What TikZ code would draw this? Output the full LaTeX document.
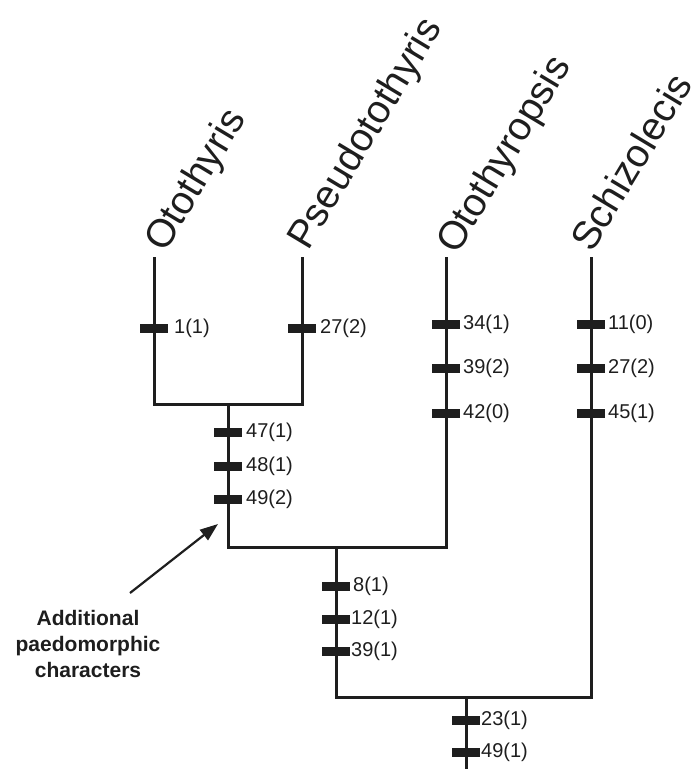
\documentclass[tikz,border=0pt]{standalone}
\usepackage{fontspec}
\setmainfont{Liberation Sans}
\usetikzlibrary{arrows.meta}
\definecolor{ink}{RGB}{30,30,30}
\begin{document}
\begin{tikzpicture}[x=1pt,y=-1pt,
  branch/.style={line width=3pt, draw=ink, line join=miter},
  tick/.style={rectangle, fill=ink, draw=none, minimum width=28pt, minimum height=9pt, inner sep=0pt},
  lab/.style={anchor=west, inner sep=0pt, text=ink, font=\fontsize{20}{24}\selectfont},
  taxon/.style={anchor=base west, rotate=59, inner sep=0pt, text=ink, font=\fontsize{39.5}{48}\selectfont},
  note/.style={align=center, inner sep=0pt, text=ink, font=\bfseries\fontsize{21}{26}\selectfont},
  pointer/.style={line width=2.2pt, draw=ink, -{Triangle[length=18pt,width=13pt]}}]
\useasboundingbox (0,0) rectangle (697,769);
% tips
\coordinate (tip1) at (154,257);
\coordinate (tip2) at (302,257);
\coordinate (tip3) at (446,257);
\coordinate (tip4) at (591,257);
% internal nodes
\coordinate (n1) at (228,404);
\coordinate (n2) at (336,547);
\coordinate (n3) at (466,697);
\coordinate (root) at (466,769);
% taxon names
\node[taxon] (nm1) at (165,254) {Otothyris};
\node[taxon] (nm2) at (308,252) {Pseudotothyris};
\node[taxon] (nm3) at (457,256) {Otothyropsis};
\node[taxon] (nm4) at (592,254) {Schizolecis};
% branches
\draw[branch] (tip1) |- (n1) -| (tip2);
\draw[branch] (n1) |- (n2) -| (tip3);
\draw[branch] (n2) |- (n3) -| (tip4);
\draw[branch] (n3) -- (root);
% character ticks
\node[tick] (a1) at (154,328) {}; \node[lab] (la1) at (174,328) {1(1)};
\node[tick] (b1) at (302,328) {}; \node[lab] (lb1) at (320,328) {27(2)};
\node[tick] (c1) at (446,324) {}; \node[lab] (lc1) at (463,324) {34(1)};
\node[tick] (c2) at (446,368) {}; \node[lab] (lc2) at (463,368) {39(2)};
\node[tick] (c3) at (446,413) {}; \node[lab] (lc3) at (463,413) {42(0)};
\node[tick] (d1) at (591,324) {}; \node[lab] (ld1) at (608,324) {11(0)};
\node[tick] (d2) at (591,368) {}; \node[lab] (ld2) at (608,368) {27(2)};
\node[tick] (d3) at (591,413) {}; \node[lab] (ld3) at (608,413) {45(1)};
\node[tick] (e1) at (228,432) {}; \node[lab] (le1) at (246,432) {47(1)};
\node[tick] (e2) at (228,466) {}; \node[lab] (le2) at (246,466) {48(1)};
\node[tick] (e3) at (228,499) {}; \node[lab] (le3) at (246,499) {49(2)};
\node[tick] (f1) at (336,586) {}; \node[lab] (lf1) at (353,586) {8(1)};
\node[tick] (f2) at (336,619) {}; \node[lab] (lf2) at (351,619) {12(1)};
\node[tick] (f3) at (336,651) {}; \node[lab] (lf3) at (351,651) {39(1)};
\node[tick] (g1) at (466,720) {}; \node[lab] (lg1) at (481,720) {23(1)};
\node[tick] (g2) at (466,752) {}; \node[lab] (lg2) at (481,752) {49(1)};
% annotation
\node[note] (txt) at (88,644) {Additional\\paedomorphic\\characters};
\coordinate (arrtail) at (130,593);
\coordinate (arrhead) at (218,524);
\draw[pointer] (arrtail) -- (arrhead);
\end{tikzpicture}
\end{document}
